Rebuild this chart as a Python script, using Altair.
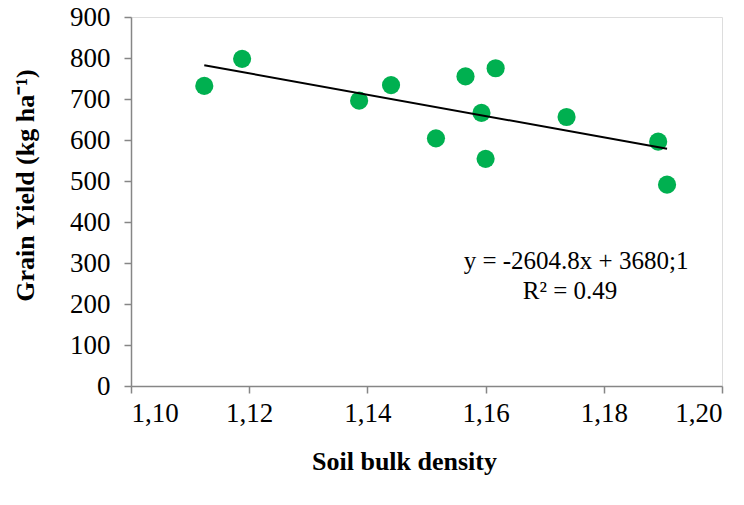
import altair as alt
import pandas as pd

# Data
bulk_density = [1.1124, 1.1188, 1.1386, 1.1440, 1.1516, 1.1566, 1.1617, 1.1593, 1.1600, 1.1737, 1.1892, 1.1907]
grain_yield = [732, 798, 696, 734, 604, 755, 775, 666, 554, 656, 596, 491]

slope = -2604.8
intercept = 3680.1
fit_x = [min(bulk_density), max(bulk_density)]
fit_y = [slope * v + intercept for v in fit_x]

eq_lines = ["y = -2604.8x + 3680;1", "R² = 0.49"]
eq_x = [1.1753, 1.1743]
eq_y = [304, 231]

x_ticks = [1.10, 1.12, 1.14, 1.16, 1.18, 1.20]
y_ticks = [0, 100, 200, 300, 400, 500, 600, 700, 800, 900]

pts = pd.DataFrame({"x": bulk_density, "y": grain_yield})
fit = pd.DataFrame({"x": fit_x, "y": fit_y})
eq = pd.DataFrame({"x": eq_x, "y": eq_y, "t": eq_lines})

FONT = "Liberation Serif"
AX = "#868686"

xscale = alt.Scale(domain=[1.10, 1.20], nice=False, zero=False)
yscale = alt.Scale(domain=[0, 900], nice=False)

xaxis = alt.Axis(
    title="Soil bulk density", values=x_ticks,
    labelExpr="replace(format(datum.value, '.2f'), '.', ',')",
    grid=False, domainColor=AX, tickColor=AX, tickSize=7, domainWidth=1.5, tickWidth=1.5,
    labelFont=FONT, labelFontSize=27, labelColor="black", labelPadding=7,
    titleFont=FONT, titleFontSize=26, titleFontWeight="bold", titleColor="black",
    titleX=273, titleY=75, titleBaseline="middle", titleAnchor="middle",
)
yaxis = alt.Axis(
    title="Grain Yield (kg ha⁻¹)", values=y_ticks,
    grid=False, domainColor=AX, tickColor=AX, tickSize=7, domainWidth=1.5, tickWidth=1.5,
    labelFont=FONT, labelFontSize=27, labelColor="black", labelPadding=14,
    titleFont=FONT, titleFontSize=26, titleFontWeight="bold", titleColor="black",
    titleX=-106, titleY=168, titleBaseline="middle", titleAngle=-90, titleAnchor="middle",
)

points = alt.Chart(pts).mark_circle(size=330, opacity=1, color="#00B050").encode(
    x=alt.X("x:Q", scale=xscale, axis=xaxis),
    y=alt.Y("y:Q", scale=yscale, axis=yaxis),
)
line = alt.Chart(fit).mark_line(color="black", strokeWidth=2).encode(
    x=alt.X("x:Q", scale=xscale), y=alt.Y("y:Q", scale=yscale)
)
text = alt.Chart(eq).mark_text(font=FONT, fontSize=25, color="black", align="center", baseline="middle").encode(
    x=alt.X("x:Q", scale=xscale), y=alt.Y("y:Q", scale=yscale), text="t:N"
)

chart = alt.layer(points, line, text).properties(
    width=591, height=369,
    padding={"left": 123, "top": 9, "right": 13, "bottom": 100},
    autosize=alt.AutoSizeParams(type="none"),
).configure_view(stroke=None).configure(background="white", font=FONT).configure_axis(
    labelFont=FONT, titleFont=FONT
)

chart.save("out.html", embed_options={"renderer": "svg", "actions": False})
